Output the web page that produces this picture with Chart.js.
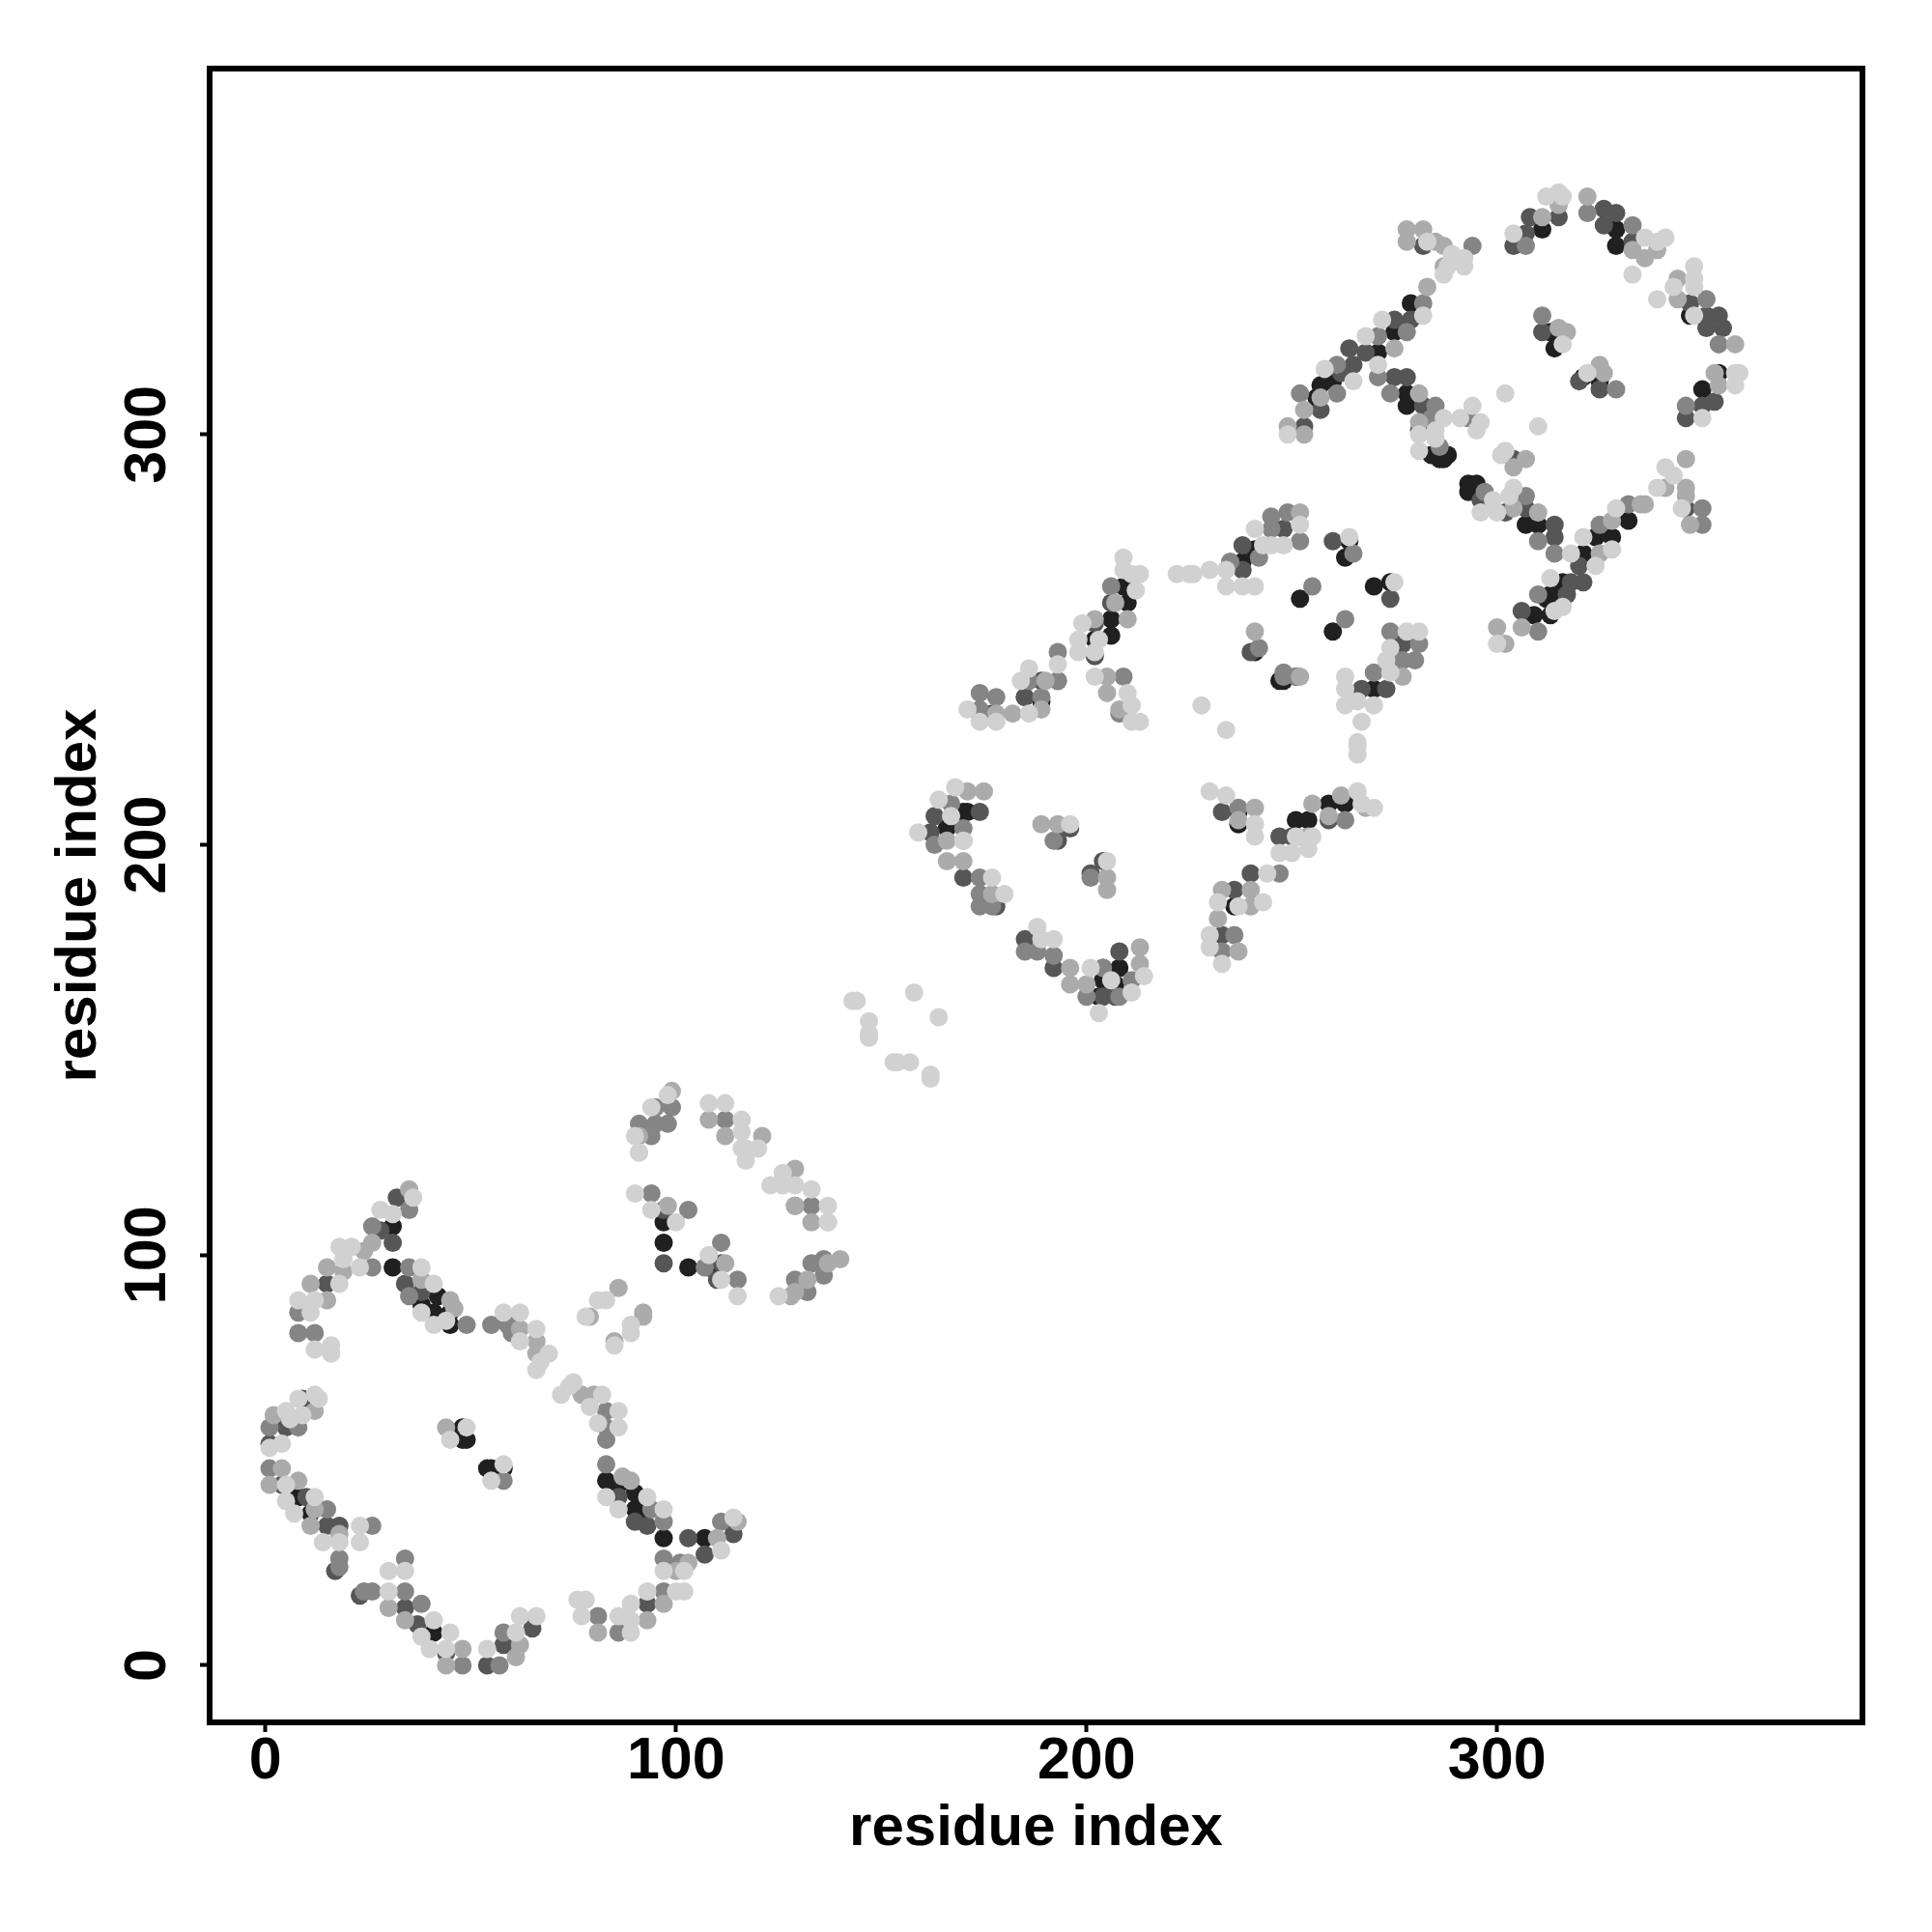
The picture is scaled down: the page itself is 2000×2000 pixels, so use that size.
<!DOCTYPE html>
<html>
<head>
<meta charset="utf-8">
<title>residue contacts</title>
<script src="https://cdn.jsdelivr.net/npm/chart.js@4"></script>
<style>
  body { margin: 0; background: #fff; }
  canvas { display: block; }
</style>
</head>
<body>
<canvas id="contactChart" width="2000" height="2000"></canvas>
<script>
// Contacts as [residue i, residue j], grouped by grey level
const tickValues = [0, 100, 200, 300];
const axisLabel = 'residue index';

const blackContacts = [[31,107],[31,97],[42,90],[38,88],[41,86],[45,86],[45,83],[48,58],[49,55],[48,55],[54,48],[55,48],[58,48],[8,41],[11,37],[41,8],[107,31],[83,45],[86,44],[90,42],[90,38],[92,37],[97,31],[97,108],[97,103],[103,97],[108,97],[189,235],[185,236],[171,208],[170,208],[166,204],[204,170],[208,170],[204,167],[207,166],[203,163],[237,208],[237,205],[251,206],[254,206],[236,185],[247,240],[241,272],[238,269],[264,274],[263,270],[270,263],[274,264],[252,260],[260,252],[241,247],[248,240],[270,238],[256,309],[257,312],[260,313],[271,320],[275,325],[279,332],[284,295],[286,294],[288,295],[287,294],[293,288],[295,288],[293,286],[278,310],[278,307],[307,278],[310,278],[309,256],[312,260],[313,256],[313,261],[316,264],[321,271],[324,275],[328,275],[332,279],[329,350],[311,350],[329,346],[347,329],[354,315],[350,311],[313,325],[314,321],[321,314],[325,313],[209,263],[210,259],[206,255],[206,251],[202,250],[259,210],[263,210],[251,202]];

const darkContacts = [[32,114],[28,106],[31,103],[15,93],[34,93],[38,91],[1,54],[9,65],[4,44],[10,41],[15,34],[18,34],[17,23],[23,17],[34,14],[37,10],[44,3],[54,0],[58,5],[65,9],[93,15],[103,31],[107,27],[114,32],[86,41],[90,35],[93,34],[97,98],[111,98],[110,94],[97,111],[193,240],[189,240],[174,232],[177,232],[185,236],[163,207],[162,203],[174,208],[170,192],[178,185],[196,204],[193,201],[204,196],[201,193],[185,177],[192,170],[208,174],[207,163],[204,163],[233,208],[247,202],[250,202],[236,189],[233,178],[251,241],[238,273],[238,267],[248,277],[260,274],[274,260],[240,247],[277,249],[267,238],[273,238],[253,302],[257,306],[262,315],[265,317],[264,321],[268,320],[275,328],[279,328],[275,314],[278,314],[282,307],[281,301],[296,284],[302,281],[307,282],[314,278],[314,275],[306,257],[317,261],[318,264],[321,264],[320,268],[307,349],[304,346],[308,353],[315,353],[326,355],[326,351],[329,354],[333,347],[347,332],[351,329],[354,329],[351,326],[355,326],[353,308],[350,307],[346,304],[282,346],[311,325],[325,311],[320,313],[304,294],[346,282],[240,193],[5,58],[206,259],[202,254],[202,246],[259,206],[254,202]];

const midContacts = [[35,111],[26,107],[26,97],[8,86],[8,81],[12,81],[35,97],[35,90],[49,83],[55,83],[59,83],[60,81],[83,62],[83,58],[83,55],[8,58],[1,58],[1,48],[58,45],[15,38],[26,34],[18,26],[18,24],[24,18],[26,18],[34,26],[34,18],[38,15],[48,0],[57,0],[58,8],[81,12],[86,8],[97,18],[97,26],[101,25],[111,35],[83,49],[94,38],[97,35],[99,136],[95,136],[98,132],[95,132],[91,132],[94,129],[112,133],[129,112],[133,112],[94,115],[103,111],[111,103],[107,97],[115,94],[136,99],[133,98],[136,95],[129,94],[132,91],[174,237],[178,236],[174,233],[189,236],[186,240],[209,241],[208,232],[167,210],[170,204],[163,200],[174,192],[174,188],[174,185],[177,185],[192,201],[201,192],[185,174],[188,174],[192,173],[204,170],[211,167],[200,163],[208,163],[237,209],[247,193],[236,178],[233,174],[248,241],[249,281],[245,280],[245,277],[252,274],[242,270],[235,269],[255,263],[265,271],[263,255],[242,248],[248,242],[251,241],[274,252],[281,249],[277,245],[280,245],[270,242],[252,310],[261,317],[261,310],[271,324],[278,325],[282,332],[294,346],[307,346],[322,354],[333,351],[351,333],[354,322],[346,307],[311,329],[329,311],[293,304],[271,314],[274,310],[285,307],[284,304],[286,297],[297,286],[307,285],[310,274],[314,271],[310,261],[325,278],[332,283],[350,282],[350,278],[310,252],[206,263],[193,247],[193,240],[263,206]];

const lightContacts = [[35,116],[26,103],[24,101],[19,96],[15,97],[11,93],[15,89],[38,94],[45,89],[46,87],[62,82],[66,79],[66,76],[77,66],[80,66],[44,58],[12,62],[2,61],[4,48],[1,44],[8,45],[12,38],[11,34],[18,32],[30,14],[34,11],[48,4],[44,0],[61,2],[62,5],[81,8],[93,11],[97,15],[100,23],[103,25],[110,31],[115,35],[87,46],[89,45],[86,92],[79,85],[92,85],[92,86],[85,79],[99,140],[91,129],[108,133],[112,129],[121,129],[129,121],[129,112],[133,108],[98,112],[112,98],[140,99],[137,98],[132,94],[129,91],[128,90],[178,232],[182,232],[189,233],[190,240],[205,241],[205,237],[208,233],[252,241],[171,213],[175,213],[170,201],[166,201],[166,196],[170,196],[177,188],[189,205],[193,205],[205,192],[205,189],[196,170],[196,166],[213,175],[213,171],[200,166],[241,209],[237,206],[254,202],[233,189],[240,189],[240,185],[232,182],[237,174],[249,302],[253,306],[257,309],[253,300],[275,321],[283,336],[278,350],[282,350],[278,347],[285,347],[287,346],[287,341],[315,356],[311,353],[322,358],[333,345],[339,345],[336,343],[344,338],[344,333],[354,312],[358,322],[353,315],[315,326],[317,325],[325,317],[326,315],[307,294],[304,292],[281,310],[281,303],[310,281],[304,282],[325,271],[328,279],[335,283],[336,283],[346,294],[341,287],[346,287],[346,285],[347,278],[300,253],[306,253],[302,249],[241,252],[252,281],[277,241],[207,259],[210,255],[202,255],[255,210],[259,207],[262,212],[268,209]];

const paleContacts = [[36,114],[31,110],[28,111],[23,97],[21,102],[18,102],[19,99],[18,93],[12,89],[8,89],[11,86],[12,77],[16,78],[16,76],[38,97],[41,93],[38,86],[41,83],[44,84],[58,86],[62,86],[62,79],[66,82],[69,76],[67,74],[66,72],[72,66],[75,69],[74,68],[82,66],[79,63],[86,62],[86,58],[81,59],[45,55],[49,58],[58,49],[55,45],[12,66],[13,65],[8,65],[9,61],[5,62],[6,60],[4,54],[1,53],[5,44],[5,40],[12,41],[7,37],[14,30],[18,30],[23,34],[23,30],[30,23],[34,23],[30,18],[38,7],[41,11],[45,8],[40,4],[44,4],[54,4],[61,8],[62,12],[66,12],[76,16],[78,16],[77,12],[86,12],[89,8],[89,15],[89,11],[93,18],[102,18],[100,18],[97,23],[102,23],[111,28],[114,36],[83,41],[86,38],[93,41],[97,38],[83,89],[81,89],[78,85],[89,83],[89,81],[85,78],[98,139],[94,136],[91,125],[90,129],[91,125],[108,137],[112,137],[116,133],[116,130],[116,126],[120,126],[117,123],[117,126],[126,120],[126,117],[123,117],[129,117],[133,116],[137,112],[137,108],[137,108],[90,115],[94,111],[100,108],[108,100],[111,94],[115,90],[125,90],[144,162],[143,162],[158,164],[164,158],[147,157],[147,154],[147,153],[153,147],[154,147],[157,147],[162,144],[162,143],[171,233],[174,230],[178,230],[186,232],[186,243],[193,244],[184,240],[202,241],[210,237],[211,234],[211,230],[213,230],[228,234],[234,228],[168,214],[164,211],[167,207],[159,203],[170,201],[177,192],[180,188],[196,205],[205,196],[188,180],[189,177],[192,177],[201,170],[214,168],[211,164],[203,159],[206,167],[230,213],[234,212],[241,205],[241,202],[247,198],[250,198],[254,199],[244,193],[232,186],[243,186],[237,185],[230,178],[230,175],[233,171],[252,278],[241,277],[248,273],[245,273],[243,273],[234,267],[230,267],[225,266],[222,266],[226,266],[234,263],[238,263],[241,263],[264,275],[275,264],[278,252],[281,252],[274,248],[273,245],[274,242],[263,241],[263,238],[263,234],[266,235],[270,234],[267,230],[266,225],[266,224],[266,222],[249,300],[258,316],[265,313],[268,324],[271,317],[272,328],[282,329],[283,347],[289,344],[292,343],[287,339],[292,341],[288,341],[304,349],[312,358],[316,358],[315,359],[336,348],[341,348],[339,347],[333,339],[339,333],[348,341],[348,338],[343,336],[348,336],[348,329],[350,304],[358,315],[358,312],[359,315],[316,322],[322,315],[302,310],[310,302],[294,307],[291,304],[296,303],[295,301],[302,296],[301,295],[287,304],[281,296],[281,300],[285,301],[285,299],[296,281],[300,281],[299,284],[304,287],[303,285],[314,257],[316,258],[313,265],[318,271],[321,275],[324,268],[328,272],[329,282],[341,292],[343,290],[339,287],[345,282],[300,249],[209,270],[209,267],[213,266],[211,266],[212,262],[199,254],[198,250],[203,250],[198,247],[202,247],[266,213],[267,210],[270,209],[251,202],[255,202]];

// first dataset ends up on top, so the pale points go first
const greyLevels = [
    { data: paleContacts, color: '#d1d1d1' },
    { data: lightContacts, color: '#ababab' },
    { data: midContacts, color: '#858585' },
    { data: darkContacts, color: '#565656' },
    { data: blackContacts, color: '#202020' }
];

// frame round the plot, Chart.js only gives us the two axis borders
const framePlugin = {
    id: 'frame',
    afterDraw(chart) {
        const { ctx, chartArea: a } = chart;
        ctx.save();
        ctx.strokeStyle = '#000';
        ctx.lineWidth = 6;
        ctx.strokeRect(a.left, a.top, a.right - a.left, a.bottom - a.top);
        ctx.restore();
    }
};

const labelFont = { family: '"Liberation Sans"', size: 61, weight: 'bold' };
const titleFont = { family: '"Liberation Sans"', size: 60, weight: 'bold' };
const tickGrid = { drawOnChartArea: false, drawTicks: true, tickLength: 10, tickWidth: 4, tickColor: '#000' };

new Chart(document.getElementById('contactChart').getContext('2d'), {
    type: 'scatter',
    data: {
        datasets: greyLevels.map(g => ({
            data: g.data.map(p => ({ x: p[0], y: p[1] })),
            backgroundColor: g.color,
            borderWidth: 0,
            pointRadius: 9.5
        }))
    },
    plugins: [framePlugin],
    options: {
        responsive: false,
        animation: false,
        layout: { padding: { top: 71, right: 72, left: 0, bottom: 0 } },
        plugins: { legend: { display: false }, tooltip: { enabled: false } },
        scales: {
            x: {
                type: 'linear',
                min: -13.6,
                max: 389,
                border: { display: false },
                grid: tickGrid,
                afterBuildTicks: (scale) => { scale.ticks = tickValues.map(v => ({ value: v })); },
                ticks: { color: '#000', font: labelFont, padding: -5, maxRotation: 0, autoSkip: false },
                title: { display: true, text: axisLabel, color: '#000', font: titleFont, padding: { top: 0, bottom: 71 } },
                afterFit: (scale) => { scale.height = 217; }
            },
            y: {
                type: 'linear',
                min: -13.9,
                max: 389.2,
                border: { display: false },
                grid: tickGrid,
                afterBuildTicks: (scale) => { scale.ticks = tickValues.map(v => ({ value: v })); },
                ticks: { color: '#000', font: labelFont, padding: 2, minRotation: 90, maxRotation: 90, crossAlign: 'center', autoSkip: false },
                title: { display: true, text: axisLabel, color: '#000', font: titleFont, padding: { top: 46, bottom: 0 } },
                afterFit: (scale) => { scale.width = 217; }
            }
        }
    }
});
</script>
</body>
</html>
